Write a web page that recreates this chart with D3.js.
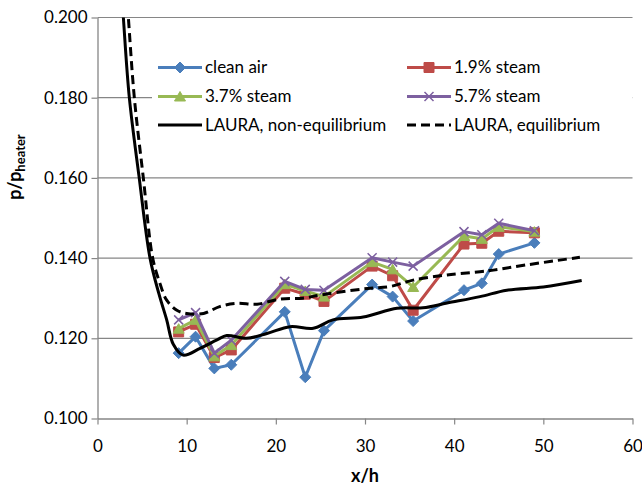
<!DOCTYPE html>
<html>
<head>
<meta charset="utf-8">
<script src="https://cdn.jsdelivr.net/npm/d3@7"></script>
<style>
  body { margin: 0; background: #fff; }
  svg { display: block; font-family: Lato, "Open Sans", sans-serif; }
</style>
</head>
<body>
<svg id="chart"></svg>
<script>
// measured positions (x/h) of the pressure taps
const xh = [9.1, 11.0, 13.1, 15.0, 21.0, 23.3, 25.4, 30.8, 33.1, 35.4, 41.1, 43.1, 45.0, 49.0];
const cleanAir = [0.1163, 0.1204, 0.1125, 0.1134, 0.1266, 0.1103, 0.1219, 0.1334, 0.1304, 0.1243, 0.1320, 0.1337, 0.1410, 0.1438];
const steam19 = [0.1216, 0.1235, 0.1152, 0.1171, 0.1325, 0.1310, 0.1292, 0.1380, 0.1356, 0.1270, 0.1435, 0.1437, 0.1467, 0.1463];
const steam37 = [0.1224, 0.1246, 0.1155, 0.1183, 0.1335, 0.1318, 0.1304, 0.1390, 0.1372, 0.1328, 0.1455, 0.1448, 0.1478, 0.1466];
const steam57 = [0.1246, 0.1264, 0.1163, 0.1195, 0.1342, 0.1322, 0.1320, 0.1401, 0.1390, 0.1380, 0.1466, 0.1458, 0.1487, 0.1468];

// LAURA computations
const lauraNonX = [2.6, 2.9, 3.57, 4.65, 5.89, 6.9, 7.76, 8.5, 9.6, 11.5, 13.4, 14.5, 16.7, 19.0, 21.6, 24.2, 26.4, 29.8, 33.6, 36.5, 39.2, 42.9, 45.9, 50.0, 54.3];
const lauraNonY = [0.21, 0.200, 0.180, 0.1605, 0.140, 0.1310, 0.1246, 0.1185, 0.1158, 0.1175, 0.1196, 0.1207, 0.1200, 0.1212, 0.1229, 0.1225, 0.1246, 0.1253, 0.1275, 0.1276, 0.1288, 0.1304, 0.1320, 0.1328, 0.1344];
const lauraEqX = [3.13, 3.46, 4.13, 5.14, 6.19, 7.0, 7.76, 8.9, 10.0, 11.9, 13.7, 15.6, 17.9, 20.5, 23.0, 25.0, 28.0, 30.6, 32.8, 35.4, 39.2, 42.9, 44.4, 48.1, 54.1];
const lauraEqY = [0.21, 0.200, 0.180, 0.160, 0.140, 0.1337, 0.1295, 0.127, 0.1262, 0.1262, 0.1279, 0.1287, 0.1285, 0.1298, 0.1300, 0.1308, 0.1318, 0.1325, 0.1329, 0.1345, 0.1358, 0.1366, 0.1370, 0.1383, 0.1402];

const xTicks = [0, 10, 20, 30, 40, 50, 60];
const yTicks = [0.10, 0.12, 0.14, 0.16, 0.18, 0.20];

const width = 642, height = 487;
const margin = { top: 17.5, right: 9.5, bottom: 68.5, left: 97.5 };

const svg = d3.select("#chart").attr("width", width).attr("height", height);

const x = d3.scaleLinear().domain([0, 60]).range([margin.left, width - margin.right]);
const y = d3.scaleLinear().domain([0.1, 0.2]).range([height - margin.bottom, margin.top]);

const gridColor = "#868686";

// gridlines
svg.append("g")
  .selectAll("line")
  .data(yTicks.slice(1))
  .join("line")
  .attr("x1", x(0))
  .attr("x2", x(60))
  .attr("y1", (d) => y(d))
  .attr("y2", (d) => y(d))
  .attr("stroke", gridColor)
  .attr("stroke-width", 1.2);

// axes
const xAxis = svg.append("g")
  .attr("transform", `translate(0, ${y(0.1)})`)
  .call(d3.axisBottom(x).tickValues(xTicks).tickSize(6).tickPadding(15).tickSizeOuter(0));
const yAxis = svg.append("g")
  .attr("transform", `translate(${x(0)}, 0)`)
  .call(d3.axisLeft(y).tickValues(yTicks).tickFormat(d3.format(".3f")).tickSize(6).tickPadding(4).tickSizeOuter(0));

[xAxis, yAxis].forEach((a) => {
  a.select(".domain").attr("stroke", gridColor).attr("stroke-width", 1.3);
  a.selectAll(".tick line").attr("stroke", gridColor).attr("stroke-width", 1.2);
  a.selectAll("text").attr("fill", "#000").style("font-size", "17px").style("font-family", "Lato");
});

// legend box (white, hides the gridline behind it)
const legend = svg.append("g");
legend.append("rect")
  .attr("x", 152).attr("y", 50)
  .attr("width", x(60) - 152).attr("height", 90)
  .attr("fill", "#fff");

// clip the plot area
svg.append("clipPath").attr("id", "plot-clip")
  .append("rect")
  .attr("x", x(0)).attr("y", y(0.2))
  .attr("width", x(60) - x(0)).attr("height", y(0.1) - y(0.2));

const plot = svg.append("g").attr("clip-path", "url(#plot-clip)");

const markerPath = {
  diamond: "M0,-5.5L5.5,0L0,5.5L-5.5,0Z",
  square: "M-5,-5H5V5H-5Z",
  triangle: "M0,-5L5.5,4.5H-5.5Z",
  cross: "M-4.5,-4.5L4.5,4.5M-4.5,4.5L4.5,-4.5",
};

const series = [
  { name: "clean air", values: cleanAir, color: "#4A7EBB", marker: "diamond" },
  { name: "1.9% steam", values: steam19, color: "#BE4B48", marker: "square" },
  { name: "3.7% steam", values: steam37, color: "#98B954", marker: "triangle" },
  { name: "5.7% steam", values: steam57, color: "#7D60A0", marker: "cross" },
];

const line = d3.line().x((d) => x(d[0])).y((d) => y(d[1]));

function drawMarker(g, s, px, py) {
  const m = g.append("path")
    .attr("d", markerPath[s.marker])
    .attr("transform", `translate(${px}, ${py})`);
  if (s.marker === "cross") {
    m.attr("fill", "none").attr("stroke", s.color).attr("stroke-width", 1.5);
  } else {
    m.attr("fill", s.color).attr("stroke", s.color).attr("stroke-width", 1);
  }
}

series.forEach((s) => {
  const pts = xh.map((v, i) => [v, s.values[i]]);
  plot.append("path")
    .datum(pts)
    .attr("d", line)
    .attr("fill", "none")
    .attr("stroke", s.color)
    .attr("stroke-width", 3)
    .attr("stroke-linejoin", "round");
  const mg = plot.append("g");
  pts.forEach((p) => drawMarker(mg, s, x(p[0]), y(p[1])));
});

const smooth = d3.line().x((d) => x(d[0])).y((d) => y(d[1])).curve(d3.curveCatmullRom.alpha(0.5));

const laura = [
  { name: "LAURA, non-equilibrium", xs: lauraNonX, ys: lauraNonY, dash: null },
  { name: "LAURA, equilibrium", xs: lauraEqX, ys: lauraEqY, dash: "9,5" },
];

laura.forEach((l) => {
  plot.append("path")
    .datum(l.xs.map((v, i) => [v, l.ys[i]]))
    .attr("d", smooth)
    .attr("fill", "none")
    .attr("stroke", "#000")
    .attr("stroke-width", 3)
    .attr("stroke-dasharray", l.dash);
});

// legend entries, two columns
const legendItems = [
  series[0], series[1], series[2], series[3],
  { name: laura[0].name, color: "#000", dash: null },
  { name: laura[1].name, color: "#000", dash: "9,5" },
];
const colX = [158, 407];
const rowY = [67.5, 96.5, 125];

legendItems.forEach((item, i) => {
  const cx = colX[i % 2];
  const cy = rowY[Math.floor(i / 2)];
  legend.append("line")
    .attr("x1", cx).attr("x2", cx + 44)
    .attr("y1", cy).attr("y2", cy)
    .attr("stroke", item.color)
    .attr("stroke-width", 3)
    .attr("stroke-dasharray", item.dash);
  if (item.marker) drawMarker(legend, item, cx + 22, cy);
  legend.append("text")
    .attr("x", cx + 47)
    .attr("y", cy)
    .attr("dy", "0.35em")
    .style("font-size", "17px")
    .attr("fill", "#000")
    .text(item.name);
});

// axis titles
svg.append("text")
  .attr("x", (x(0) + x(60)) / 2)
  .attr("y", 482)
  .attr("text-anchor", "middle")
  .style("font-size", "18px")
  .style("font-weight", "bold")
  .text("x/h");

const yTitle = svg.append("text")
  .attr("transform", "translate(21, 167) rotate(-90)")
  .attr("text-anchor", "middle")
  .style("font-size", "18px")
  .style("font-weight", "bold");
yTitle.append("tspan").text("p/p");
yTitle.append("tspan").attr("dy", "4").style("font-size", "13px").text("heater");
</script>
</body>
</html>
